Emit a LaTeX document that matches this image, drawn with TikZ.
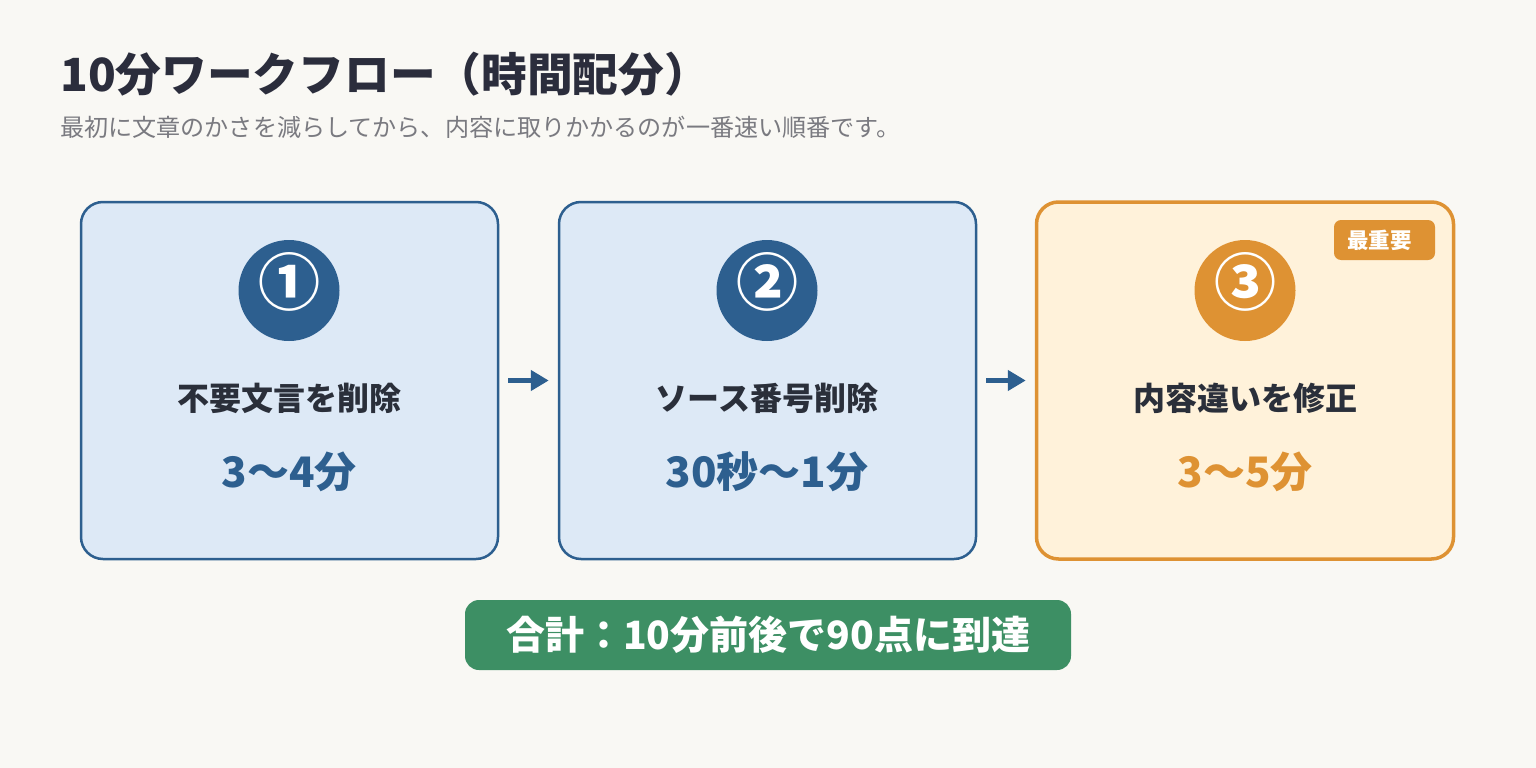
\documentclass[tikz,border=0pt]{standalone}
\usepackage{fontspec}
\setmainfont{Noto Sans CJK JP}
\usetikzlibrary{arrows.meta}
\definecolor{cbg}{HTML}{F9F8F4}
\definecolor{ctitle}{HTML}{2B2D3C}
\definecolor{csub}{HTML}{7A7A80}
\definecolor{cblue}{HTML}{2D5F8F}
\definecolor{cbluefill}{HTML}{DDE9F6}
\definecolor{corange}{HTML}{DE9233}
\definecolor{corangefill}{HTML}{FFF2DA}
\definecolor{cgreen}{HTML}{3D8F64}
\definecolor{ctext}{HTML}{2A2F3A}
\begin{document}
\begin{tikzpicture}[x=1pt,y=-1pt,
  card/.style={rounded corners=22pt, minimum width=417pt, minimum height=357pt, inner sep=0pt},
  bluecard/.style={card, draw=cblue, fill=cbluefill, line width=2.5pt},
  orangecard/.style={card, draw=corange, fill=corangefill, line width=3.5pt},
  disk/.style={circle, minimum size=101pt, inner sep=0pt, fill=#1},
  digit/.style={inner sep=0pt, text=white, font=\bfseries\fontsize{62}{62}\selectfont},
  steptitle/.style={inner sep=0pt, text=ctext, font=\bfseries\fontsize{32}{32}\selectfont},
  steptime/.style={inner sep=0pt, text=#1, font=\bfseries\fontsize{42}{42}\selectfont},
  flow/.style={-{Triangle[length=18pt,width=20pt]}, line width=5pt, draw=cblue, shorten <=9pt, shorten >=9pt}
]
\path[fill=cbg] (0,0) rectangle (1536,768);
\useasboundingbox (0,0) rectangle (1536,768);

\node[anchor=base west, inner sep=0pt, text=ctitle, font=\bfseries\fontsize{45.7}{45.7}\selectfont] (title) at (60,92) {10分ワークフロー（時間配分）};
\node[anchor=base west, inner sep=0pt, text=csub, font=\fontsize{24.1}{24.1}\selectfont] (subtitle) at (60,136) {最初に文章のかさを減らしてから、内容に取りかかるのが一番速い順番です。};

\node[bluecard] (box1) at (289.5,380.5) {};
\node[bluecard] (box2) at (767.5,380.5) {};
\node[orangecard] (box3) at (1245,380.5) {};

\node[disk=cblue] (d1) at (289,290.5) {};
\node[disk=cblue] (d2) at (767,290.5) {};
\node[disk=corange] (d3) at (1245,290.5) {};
\node[digit] (n1) at (289,282) {①};
\node[digit] (n2) at (767,282) {②};
\node[digit] (n3) at (1245,282) {③};

\node[steptitle] (t1) at (289,398.5) {不要文言を削除};
\node[steptitle] (t2) at (767,398.5) {ソース番号削除};
\node[steptitle] (t3) at (1245,398.5) {内容違いを修正};

\node[steptime=cblue] (m1) at (289,472) {3〜4分};
\node[steptime=cblue] (m2) at (767,472) {30秒〜1分};
\node[steptime=corange] (m3) at (1245,472) {3〜5分};

\node[fill=corange, rounded corners=7pt, minimum width=101pt, minimum height=40pt, inner sep=0pt, text=white, font=\bfseries\fontsize{21.5}{21.5}\selectfont] (badge) at (1384.5,240) {最重要\kern10pt};

\draw[flow] (box1.east) -- (box2.west);
\draw[flow] (box2.east) -- (box3.west);

\node[fill=cgreen, rounded corners=14pt, minimum width=606pt, minimum height=70pt, inner sep=0pt, text=white, font=\bfseries\fontsize{39}{39}\selectfont] (total) at (768,635) {合計：10分前後で90点に到達};
\end{tikzpicture}
\end{document}
